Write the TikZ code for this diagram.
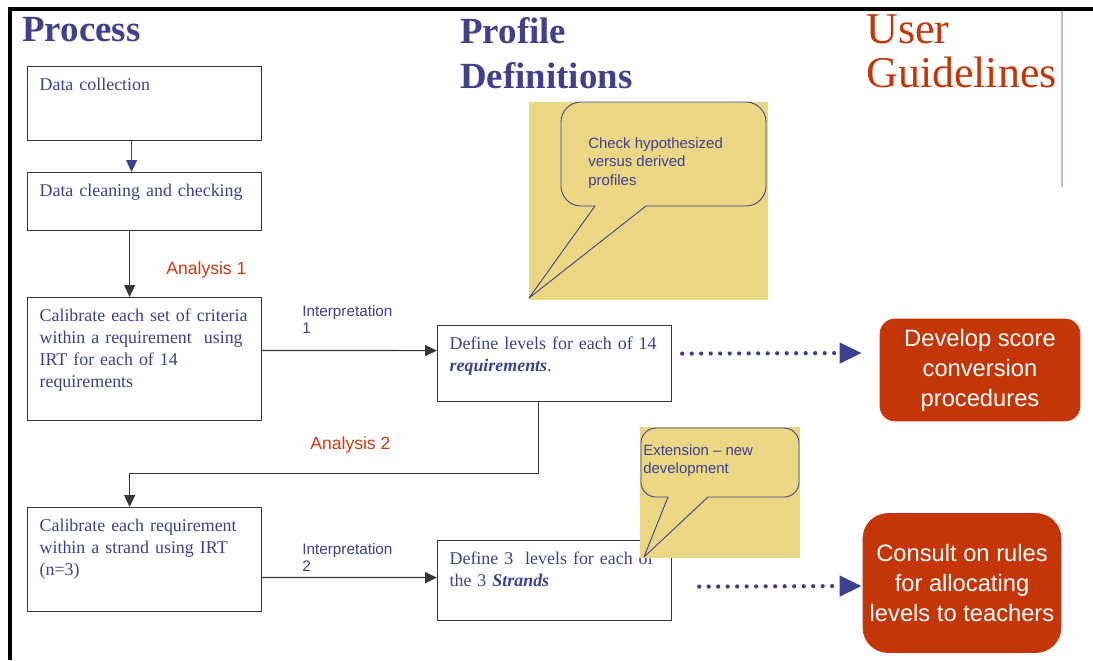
\documentclass[tikz,border=0pt]{standalone}
\usepackage{fontspec}
\setmainfont{Liberation Serif}
\setsansfont{Liberation Sans}
\usetikzlibrary{arrows.meta,positioning}
\definecolor{textblue}{RGB}{60,64,145}
\definecolor{titleblue}{RGB}{64,64,140}
\definecolor{guidered}{RGB}{196,54,8}
\definecolor{labelred}{RGB}{210,56,10}
\definecolor{noteyellow}{RGB}{235,214,131}
\definecolor{edgegray}{RGB}{55,55,55}
\definecolor{ruleblue}{RGB}{175,190,240}

\begin{document}
\begin{tikzpicture}[x=0.02cm,y=-0.02cm,
  stagebox/.style={draw=edgegray, line width=0.7pt, anchor=north west, align=left,
    inner xsep=0.24cm, inner ysep=0.2cm, text width=4.2cm, text height=0.28cm,
    text=textblue, font=\fontsize{10.2}{12.5}\selectfont},
  flowarrow/.style={edgegray, line width=0.7pt, -{Triangle[length=0.24cm,width=0.22cm]}},
  dotarrow/.style={textblue, line width=0.085cm, line cap=round, dash pattern=on 0pt off 0.19cm,
    -{Triangle[length=0.44cm,width=0.4cm]}},
  guidebox/.style={fill=guidered, draw=guidered, text=white, align=center,
    font=\sffamily\fontsize{13.5}{17}\selectfont},
  steplabel/.style={anchor=west, inner sep=0, text=labelred, font=\sffamily\fontsize{10}{12}\selectfont},
  interlabel/.style={anchor=north west, inner sep=0, align=left, text=textblue,
    font=\sffamily\fontsize{8.7}{9.8}\selectfont},
  notetext/.style={anchor=north west, inner sep=0, align=left, text=textblue,
    font=\sffamily\fontsize{8.5}{10.7}\selectfont},
  notebg/.style={fill=noteyellow},
  noteedge/.style={draw=textblue, line width=0.5pt, line join=round},
  heading/.style={anchor=north west, inner sep=0, align=left}
]
\useasboundingbox (0,0) rectangle (1093,660);

% frame
\draw[line width=0.08cm] (10,660) -- (10,9) -- (1093,9);
\draw[ruleblue, line width=0.03cm] (1062,11) -- (1062,187);

% column headings
\node[heading, text=titleblue, font=\bfseries\fontsize{21}{25.5}\selectfont] (proc) at (22,17) {Process};
\node[heading, text=titleblue, font=\bfseries\fontsize{21}{25.5}\selectfont] (prof) at (460,17) {Profile\\Definitions};
\node[heading, text=guidered, font=\fontsize{25}{25}\selectfont] (guide) at (866,14) {User\\Guidelines};

% process and profile boxes
\node[stagebox, text depth=0.80cm] (collect) at (27,66) {Data collection};
\node[stagebox, text depth=0.48cm] (clean) at (27,172) {Data cleaning and checking};
\node[stagebox, text depth=1.78cm] (calreq) at (27,297) {Calibrate each set of criteria\\within a requirement~ using\\IRT for each of 14\\requirements};
\node[stagebox, text depth=0.84cm] (levreq) at (437,325) {Define levels for each of 14\\\textbf{\textit{requirements}}.};
\node[stagebox, text depth=1.40cm] (calstr) at (27,507) {Calibrate each requirement\\within a strand using IRT\\(n=3)};
\node[stagebox, text depth=0.92cm] (levstr) at (437,540) {Define 3~ levels for each of\\the 3 \textbf{\textit{Strands}}};

\draw[flowarrow, textblue] ([xshift=-0.26cm]collect.south) -- ([xshift=-0.26cm]clean.north);
\draw[flowarrow] ([xshift=-0.3cm]clean.south) -- ([xshift=-0.3cm]calreq.north);
\draw[flowarrow] ([yshift=0.17cm]calreq.east) -- ([yshift=0.26cm]levreq.west);
\draw[flowarrow] ([xshift=-0.32cm]levreq.south) -- ++(0,71) -| ([xshift=-0.3cm]calstr.north);
\draw[flowarrow] ([yshift=-0.36cm]calstr.east) -- ([yshift=0.06cm]levstr.west);

\node[steplabel] (ana1) at (166,270) {Analysis 1};
\node[steplabel] (ana2) at (310,445) {Analysis 2};
\node[interlabel] (int1) at (302,305) {Interpretation\\1};
\node[interlabel] (int2) at (302,543) {Interpretation\\2};

% callout notes
\fill[notebg] (529,102) rectangle (768,300);
\draw[noteedge] (646,206) [rounded corners=0.4cm] -- (766,206) -- (766,102) -- (561,102) -- (561,206) [sharp corners] -- (595,206) -- (529,298) -- cycle;
\node[notetext] (hypnote) at (588,137) {Check hypothesized\\versus derived\\profiles};

\fill[notebg] (640,427) rectangle (800,558);
\draw[noteedge] (708,497) [rounded corners=0.3cm] -- (799,497) -- (799,428) -- (641,428) -- (641,497) [sharp corners] -- (668,497) -- (644,557) -- cycle;
\node[notetext] (extnote) at (643,444) {Extension – new\\development};

% user guidelines
\node[guidebox, rounded corners=0.3cm, minimum width=4cm, minimum height=2.04cm] (conv) at (980,370) {Develop score\\conversion\\procedures};
\node[guidebox, rounded corners=0.5cm, minimum width=3.96cm, minimum height=2.78cm] (consult) at (962,583) {Consult on rules\\for allocating\\levels to teachers};

\draw[dotarrow] ([xshift=0.2cm,yshift=0.2cm]levreq.east) -- ([xshift=-0.36cm,yshift=0.34cm]conv.west);
\draw[dotarrow] ([xshift=0.54cm,yshift=-0.12cm]levstr.east) -- ([xshift=-0.02cm,yshift=-0.06cm]consult.west);
\end{tikzpicture}
\end{document}
